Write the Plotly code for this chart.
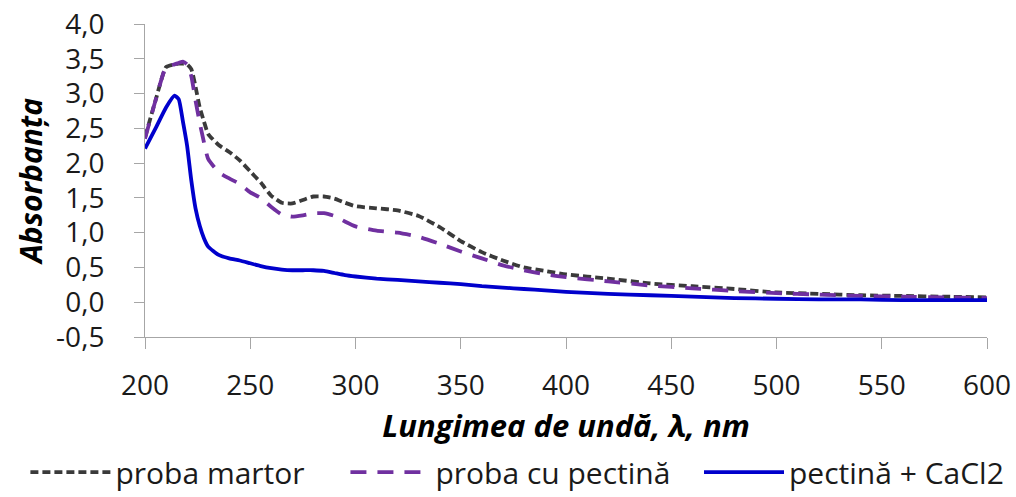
import plotly.graph_objects as go

# Wavelength grid (nm)
wavelength = [200, 205, 210, 214, 216, 218, 220, 222, 224, 226, 228, 230, 235, 240, 245,
              250, 255, 260, 265, 270, 275, 280, 285, 290, 295, 300, 310, 320, 330,
              340, 350, 360, 370, 380, 390, 400, 420, 440, 460, 480, 500, 520, 540,
              560, 580, 600]

# Absorbance of the control sample
proba_martor = [2.37, 2.90, 3.38, 3.42, 3.43, 3.43, 3.42, 3.35, 3.10, 2.80, 2.60, 2.42, 2.26,
                2.16, 2.04, 1.88, 1.72, 1.53, 1.43, 1.42, 1.47, 1.52, 1.52, 1.49, 1.43,
                1.38, 1.35, 1.32, 1.24, 1.08, 0.88, 0.72, 0.60, 0.50, 0.45, 0.40, 0.34,
                0.27, 0.23, 0.19, 0.14, 0.12, 0.10, 0.09, 0.08, 0.07]

# Absorbance of the sample with pectin
proba_pectina = [2.35, 2.90, 3.38, 3.42, 3.44, 3.46, 3.42, 3.25, 2.90, 2.58, 2.30, 2.06, 1.87,
                 1.78, 1.70, 1.58, 1.50, 1.37, 1.26, 1.23, 1.25, 1.28, 1.28, 1.24, 1.16,
                 1.09, 1.03, 1.00, 0.94, 0.84, 0.73, 0.63, 0.53, 0.46, 0.40, 0.36, 0.30,
                 0.24, 0.20, 0.16, 0.13, 0.11, 0.09, 0.08, 0.07, 0.06]

# Absorbance of pectin + CaCl2
pectina_cacl2 = [2.21, 2.50, 2.80, 2.97, 2.92, 2.60, 2.25, 1.75, 1.35, 1.10, 0.92, 0.80, 0.68,
                 0.63, 0.60, 0.56, 0.52, 0.49, 0.47, 0.46, 0.46, 0.46, 0.45, 0.42, 0.39,
                 0.37, 0.34, 0.32, 0.30, 0.28, 0.26, 0.23, 0.21, 0.19, 0.17, 0.15, 0.12,
                 0.10, 0.08, 0.06, 0.05, 0.04, 0.04, 0.03, 0.03, 0.03]

series_names = ["proba martor", "proba cu pectină", "pectină + CaCl2"]

# Y-axis ticks (comma decimal separator, plain hyphen for the negative value)
y_tick_values = [-0.5, 0.0, 0.5, 1.0, 1.5, 2.0, 2.5, 3.0, 3.5, 4.0]
y_tick_labels = ["-0,5", "0,0", "0,5", "1,0", "1,5", "2,0", "2,5", "3,0", "3,5", "4,0"]

FONT = "Open Sans"
TEXT = "#1a1a1a"

fig = go.Figure()
fig.add_trace(go.Scatter(x=wavelength, y=proba_martor, mode="lines", name=series_names[0],
                         legend="legend",
                         line=dict(color="#3a3a3a", width=3.8, dash="8px,4px", shape="spline", smoothing=0.5)))
fig.add_trace(go.Scatter(x=wavelength, y=proba_pectina, mode="lines", name=series_names[1],
                         legend="legend2",
                         line=dict(color="#7030A0", width=3.8, dash="16px,11px", shape="spline", smoothing=0.5)))
fig.add_trace(go.Scatter(x=wavelength, y=pectina_cacl2, mode="lines", name=series_names[2],
                         legend="legend3",
                         line=dict(color="#0000CC", width=3.8, shape="spline", smoothing=0.5)))

legend_common = dict(orientation="h", xref="container", yref="container",
                     y=0.05, xanchor="left", yanchor="middle",
                     font=dict(family=FONT, size=30, color=TEXT),
                     itemwidth=80, bgcolor="rgba(0,0,0,0)")

fig.update_layout(
    width=1016, height=497,
    margin=dict(l=145, r=29, t=24, b=160, autoexpand=False),
    paper_bgcolor="white", plot_bgcolor="white",
    separators=", ",
    font=dict(family=FONT, size=28, color=TEXT),
    showlegend=True,
    legend=dict(x=0.025, **legend_common),
    legend2=dict(x=0.34, **legend_common),
    legend3=dict(x=0.688, **legend_common),
    xaxis=dict(range=[200, 600], dtick=50, tick0=200, showgrid=False, zeroline=False,
               showline=True, linecolor="#A6A6A6", linewidth=1, automargin=True,
               ticks="outside", ticklen=11, tickcolor="#A6A6A6",
               ticklabelstandoff=12, tickformat="d",
               tickfont=dict(family=FONT, size=28, color=TEXT),
               title=dict(text="<b><i>Lungimea de undă, λ, nm</i></b>",
                          font=dict(family=FONT, size=31, color="black"), standoff=18)),
    yaxis=dict(range=[-0.5, 4.0], tickmode="array", tickvals=y_tick_values, ticktext=y_tick_labels,
               showgrid=False, zeroline=False, automargin=True,
               showline=True, linecolor="#A6A6A6", linewidth=1,
               ticks="outside", ticklen=10, tickcolor="#A6A6A6",
               ticklabelstandoff=24,
               tickfont=dict(family=FONT, size=28, color=TEXT),
               title=dict(text="<b><i>Absorbanța</i></b>",
                          font=dict(family=FONT, size=30, color="black"), standoff=4)),
)

fig.write_html("out.html")
